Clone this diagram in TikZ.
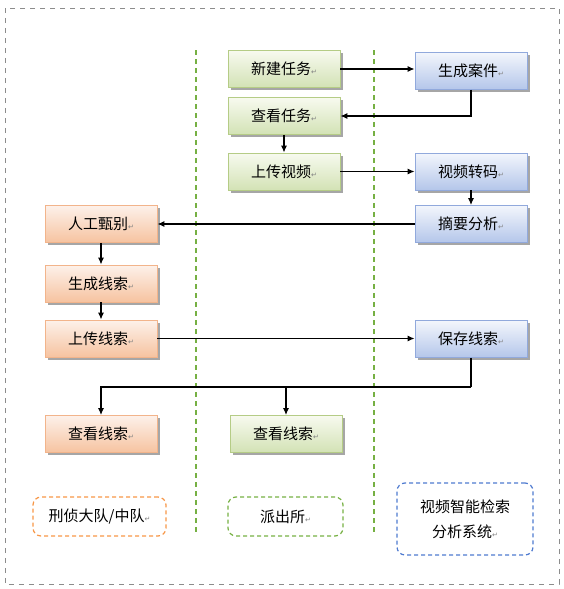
\documentclass[tikz,border=0pt]{standalone}
\usepackage{fontspec}
\setmainfont{Noto Sans CJK SC}
\newfontfamily\pmfont{DejaVu Sans}
\usetikzlibrary{shadows,arrows.meta}
\definecolor{gbord}{HTML}{B5CC86}
\definecolor{gtop}{HTML}{F7FAEF}
\definecolor{gbot}{HTML}{D3E2B5}
\definecolor{bbord}{HTML}{91A9DC}
\definecolor{btop}{HTML}{F3F6FC}
\definecolor{bbot}{HTML}{B4C6EA}
\definecolor{obord}{HTML}{F2B48B}
\definecolor{otop}{HTML}{FDF1EA}
\definecolor{obot}{HTML}{F6C3A0}
\definecolor{lgreen}{HTML}{76B043}
\definecolor{lorange}{HTML}{F79646}
\definecolor{lblue}{HTML}{4F7BD0}
\newcommand\retmark{{\pmfont\color{gray}\fontsize{7}{7}\selectfont ↵}}
\tikzset{
  boxbase/.style={draw, line width=0.8pt, minimum width=112pt, minimum height=37pt,
    inner sep=0pt, font=\fontsize{15}{15}\selectfont,
    drop shadow={shadow xshift=2.5pt, shadow yshift=-2.5pt, fill=black!35, opacity=1}},
  gbox/.style={boxbase, gbord, top color=gtop, bottom color=gbot, text=black},
  bbox/.style={boxbase, bbord, top color=btop, bottom color=bbot, text=black},
  obox/.style={boxbase, obord, top color=otop, bottom color=obot, text=black},
  conn/.style={line width=1.2pt, -{Latex[length=7pt,width=6pt]}},
  plainconn/.style={line width=1.2pt},
  legend/.style={draw=#1, dash pattern=on 4pt off 3pt, line width=1.2pt, rounded corners=8pt,
    font=\fontsize{15}{15}\selectfont, align=center, text=black},
  sep/.style={lgreen, line width=1.2pt, dash pattern=on 5pt off 4pt}
}
\begin{document}
\begin{tikzpicture}[x=1pt,y=-1pt]
\useasboundingbox (0,0) rectangle (563,589);
\draw[black!45, line width=1pt, dash pattern=on 5pt off 5pt] (5,8) rectangle (559,584);
\draw[sep] (196,50) -- (196,535);
\draw[sep] (374,50) -- (374,533);

\node[gbox] (xjrw) at (284,69) {新建任务\retmark};
\node[gbox] (ckrw) at (284,116) {查看任务\retmark};
\node[gbox] (scsp) at (284,171.5) {上传视频\retmark};
\node[bbox] (scaj) at (471,71) {生成案件\retmark};
\node[bbox] (spzm) at (471,171.5) {视频转码\retmark};
\node[bbox] (zyfx) at (471,224) {摘要分析\retmark};
\node[bbox] (bcxs) at (471,339) {保存线索\retmark};
\node[obox] (rgzb) at (101,224) {人工甄别\retmark};
\node[obox] (scxs) at (101,283.5) {生成线索\retmark};
\node[obox] (scxs2) at (101,338.5) {上传线索\retmark};
\node[obox] (ckxso) at (101,434) {查看线索\retmark};
\node[gbox] (ckxsg) at (286,434) {查看线索\retmark};

\draw[conn] (xjrw.east) -- (scaj.west |- xjrw.east);
\draw[conn] (scaj.south) |- (ckrw.east);
\draw[conn] (ckrw.south) -- (scsp.north);
\draw[conn] (scsp.east) -- (spzm.west);
\draw[conn] (spzm.south) -- (zyfx.north);
\draw[conn] (zyfx.west) -- (rgzb.east);
\draw[conn] (rgzb.south) -- (scxs.north);
\draw[conn] (scxs.south) -- (scxs2.north);
\draw[conn] (scxs2.east) -- (bcxs.west |- scxs2.east);
\coordinate (jn) at (471,387);
\draw[plainconn] (bcxs.south) -- (jn);
\draw[conn] (jn) -| (ckxso.north);
\draw[conn] (jn) -| (ckxsg.north);

\node[legend=lorange, minimum width=133pt, minimum height=39pt] (lg1) at (99.5,516.5) {刑侦大队/中队\retmark};
\node[legend=lgreen, minimum width=115pt, minimum height=39pt] (lg2) at (285.5,516.5) {派出所\retmark};
\node[legend=lblue, minimum width=136pt, minimum height=72pt] (lg3) at (465,519) {视频智能检索\\[10pt]分析系统\retmark};
\end{tikzpicture}
\end{document}
